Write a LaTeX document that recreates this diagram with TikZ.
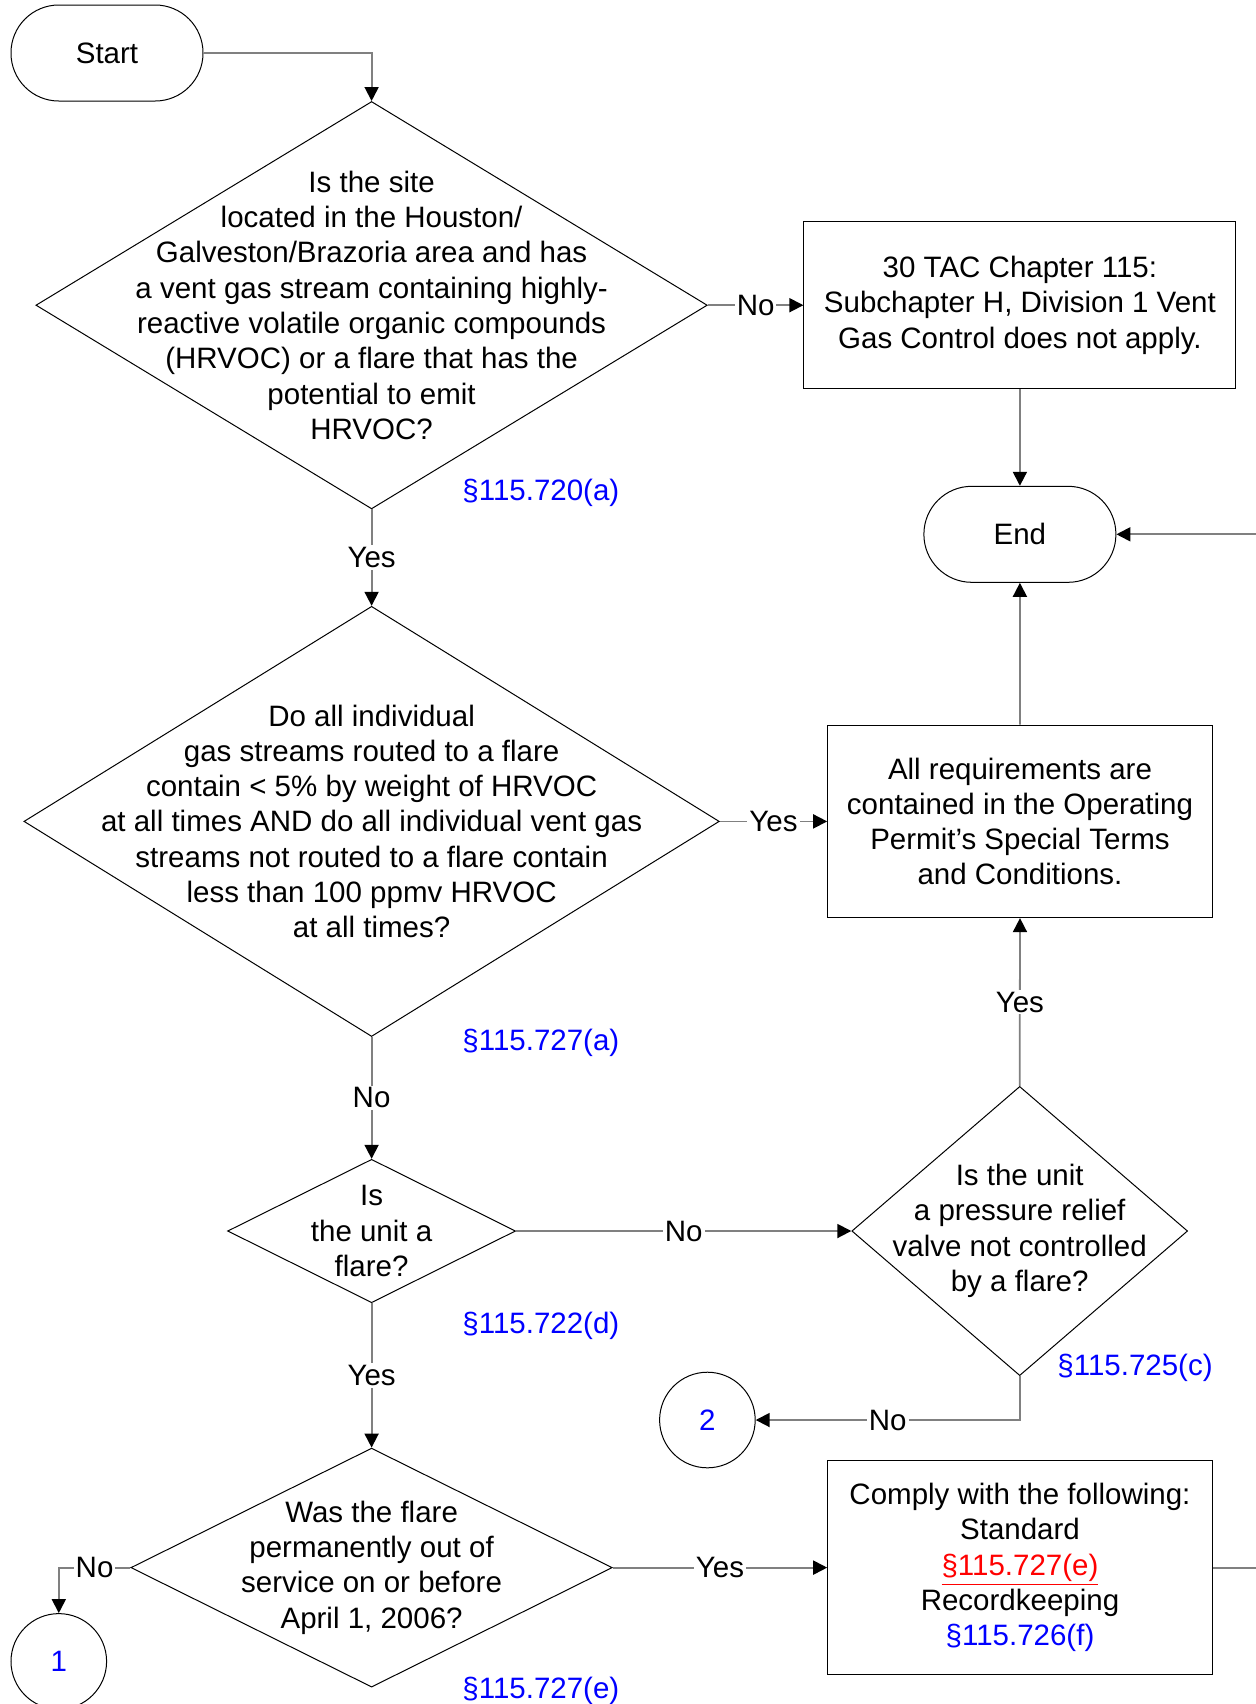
\documentclass[tikz,border=0pt]{standalone}
\usepackage{fontspec}
\setmainfont{Liberation Sans}
\usepackage{xcolor}
\usepackage{tikz}
\usetikzlibrary{positioning,arrows.meta,shapes.geometric}
\definecolor{linegray}{HTML}{808080}
\definecolor{refblue}{HTML}{0000FF}
\definecolor{refred}{HTML}{FF0000}

\begin{document}
\begin{tikzpicture}[x=1pt, y=-1pt,
      font=\fontsize{14.75}{17.65}\selectfont,
      term/.style={draw, line width=0.5pt, rounded corners=23.9pt,
                   minimum width=96pt, minimum height=48pt},
      decision/.style={draw, diamond, line width=0.5pt, inner sep=0pt},
      qtext/.style={align=center, inner sep=0pt},
      act/.style={draw, line width=0.5pt, align=center, inner sep=2pt},
      conn/.style={draw, circle, line width=0.5pt, minimum size=47.8pt, inner sep=0pt, text=refblue},
      ref/.style={text=refblue, anchor=west, inner sep=0pt},
      lbl/.style={fill=white, text=black, inner sep=1pt},
      seta/.style={-{Triangle[length=7pt, width=7pt, color=black]}, linegray, line width=0.9pt},
      node distance=48pt]
    \useasboundingbox (0,0) rectangle (628,852);
    \clip (0,0) rectangle (628,852);

    \node[term] (start) at (53.5,26.5) {Start};
    \node[decision, minimum width=335.7pt, minimum height=203.7pt] (q1) at (185.8,152.6) {};
    \node[qtext] (q1t) at (q1) {Is the site\\ located in the Houston/\\ Galveston/Brazoria area and has\\
      a vent gas stream containing highly-\\ reactive volatile organic compounds\\
      (HRVOC) or a flare that has the\\ potential to emit\\ HRVOC?};
    \node[act, right=47.8pt of q1, minimum width=216pt, minimum height=83.7pt] (b1)
      {30 TAC Chapter 115:\\ Subchapter H, Division 1 Vent\\ Gas Control does not apply.};
    \node[term, below=48.2pt of b1] (stop) {End};

    \node[decision, below=48.2pt of q1, minimum width=347.7pt, minimum height=215.1pt] (q2) {};
    \node[qtext] (q2t) at (q2) {Do all individual\\ gas streams routed to a flare\\ contain < 5\% by weight of HRVOC\\
      at all times AND do all individual vent gas\\ streams not routed to a flare contain\\
      less than 100 ppmv HRVOC\\ at all times?};
    \node[act, right=53.7pt of q2, minimum width=192.3pt, minimum height=96.2pt] (b2)
      {All requirements are\\ contained in the Operating\\ Permit’s Special Terms\\ and Conditions.};

    \node[decision, below=60.9pt of q2, minimum width=144pt, minimum height=71.7pt] (q3) {};
    \node[qtext] (q3t) at (q3) {Is\\ the unit a\\ flare?};
    \node[decision, right=167.6pt of q3, minimum width=167.9pt, minimum height=144.6pt] (q4) {};
    \node[qtext] (q4t) at (q4) {Is the unit\\ a pressure relief\\ valve not controlled\\ by a flare?};
    \node[conn] (c2) at (353.7,710) {2};

    \node[decision, below=72.2pt of q3, minimum width=240.7pt, minimum height=119.5pt] (q5) {};
    \node[qtext] (q5t) at (q5) {Was the flare\\ permanently out of\\ service on or before\\ April 1, 2006?};
    \node[act, right=107.2pt of q5, minimum width=192.3pt, minimum height=107pt] (b3)
      {Comply with the following:\\ Standard\\ \textcolor{refred}{\underline{§115.727(e)}}\\
       Recordkeeping\\ \textcolor{refblue}{§115.726(f)}};
    \node[conn] (c1) at (29.4,830.7) {1};

    % rule references
    \node[ref] (r1) at (231,246.6) {§115.720(a)};
    \node[ref] (r2) at (231,521.5) {§115.727(a)};
    \node[ref] (r3) at (231,663.1) {§115.722(d)};
    \node[ref] (r4) at (528.5,684) {§115.725(c)};
    \node[ref] (r5) at (231,845.3) {§115.727(e)};

    \coordinate (offR) at (640,0);
    \draw[seta] (start.east) -| (q1.north);
    \draw[seta] (q1.east) -- node[lbl] (n1) {No} (b1.west);
    \draw[seta] (b1.south) -- (stop.north);
    \draw[seta] (q1.south) -- node[lbl] (y1) {Yes} (q2.north);
    \draw[seta] (q2.east) -- node[lbl] (y2) {Yes} (b2.west);
    \draw[seta] (b2.north) -- (stop.south);
    \draw[seta] (q2.south) -- node[lbl] (n2) {No} (q3.north);
    \draw[seta] (q3.east) -- node[lbl] (n3) {No} (q4.west);
    \draw[seta] (q4.north) -- node[lbl] (y3) {Yes} (b2.south);
    \draw[seta] (q4.south) |- node[lbl, pos=0.75] (n4) {No} (c2.east);
    \draw[seta] (q3.south) -- node[lbl] (y4) {Yes} (q5.north);
    \draw[seta] (q5.east) -- node[lbl] (y5) {Yes} (b3.west);
    \draw[seta] (q5.west) -| node[lbl, pos=0.25] (n5) {No} (c1.north);
    \draw[seta] (b3.east) -- (b3.east -| offR) -- (stop.east -| offR) -- (stop.east);
  \end{tikzpicture}
\end{document}
